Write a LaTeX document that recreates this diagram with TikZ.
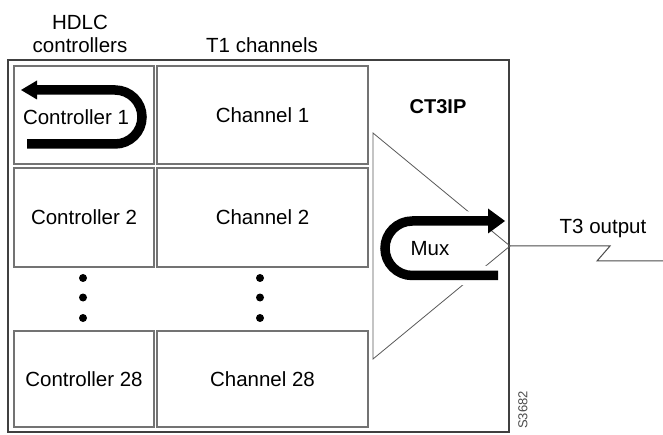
\documentclass[tikz,border=0pt]{standalone}
\usepackage{fontspec}
\setmainfont{Liberation Sans}
\begin{document}
\begin{tikzpicture}[x=1pt,y=-1pt,
  cell/.style={draw=black!55,line width=1.4pt,inner sep=0pt,font=\fontsize{20.5}{24}\selectfont},
  lbl/.style={inner sep=0pt,font=\fontsize{20.5}{24}\selectfont},
  dotnode/.style={circle,fill=black,inner sep=0pt,minimum size=8pt},
  bigarrow/.style={line width=9.5pt,black},
  halo/.style={line width=19pt,white},
  tri/.style={draw=black!65,line width=0.8pt},
  outline/.style={black!70,line width=1pt}]
\useasboundingbox (0,0) rectangle (663,435);
\fill[white] (0,0) rectangle (663,435);
% headers
\node[lbl] (hdlc) at (80,22) {HDLC};
\node[lbl] (ctrls) at (80,45) {controllers};
\node[lbl] (t1) at (262,45) {T1 channels};
% outer box
\node[draw=black!75,line width=1.4pt,minimum width=501pt,minimum height=372pt,inner sep=0pt] (outer) at (258.5,246) {};
% controllers
\node[cell,minimum width=140pt,minimum height=98pt] (c1) at (84,115) {};
\node[lbl] (c1t) at (76,117) {Controller 1};
\node[cell,minimum width=140pt,minimum height=99pt] (c2) at (84,217.5) {Controller 2};
\node[cell,minimum width=140pt,minimum height=96pt] (c28) at (84,379) {Controller 28};
% channels
\node[cell,minimum width=211pt,minimum height=98pt] (ch1) at (262.5,115) {Channel 1};
\node[cell,minimum width=211pt,minimum height=99pt] (ch2) at (262.5,217.5) {Channel 2};
\node[cell,minimum width=211pt,minimum height=96pt] (ch28) at (262.5,379) {Channel 28};
% dots
\node[dotnode] (d1) at (83,278) {};
\node[dotnode] (d2) at (83,297.5) {};
\node[dotnode] (d3) at (83,318) {};
\node[dotnode] (e1) at (260,278) {};
\node[dotnode] (e2) at (260,297.5) {};
\node[dotnode] (e3) at (260,318) {};
% controller 1 loop arrow
\coordinate (la) at (27,144);
\coordinate (lb) at (115,144);
\coordinate (lc) at (142,117);
\coordinate (ld) at (115,90);
\coordinate (le) at (37,90);
\draw[bigarrow] (la) -- (lb) .. controls (129.9,144) and (142,131.9) .. (lc) .. controls (142,102.1) and (129.9,90) .. (ld) -- (le);
\fill[black] (37,80.5) -- (21,90) -- (37,99.5) -- cycle;
% CT3IP
\node[lbl,font=\fontsize{20}{24}\selectfont\bfseries] (ct3ip) at (438,107) {CT3IP};
% mux triangle
\coordinate (mt) at (373,133);
\coordinate (mb) at (373,359);
\coordinate (mo) at (510,246);
\draw[tri] (mt) -- (mo) -- (mb) -- cycle;
% mux arrow
\coordinate (ma) at (498,275.5);
\coordinate (mbb) at (412.25,275.5);
\coordinate (mc) at (385,248.25);
\coordinate (md) at (412.25,221);
\coordinate (me) at (489,221);
\draw[halo] (ma) -- (mbb) .. controls (397.2,275.5) and (385,263.3) .. (mc) .. controls (385,233.2) and (397.2,221) .. (md) -- (me);
\draw[bigarrow] (ma) -- (mbb) .. controls (397.2,275.5) and (385,263.3) .. (mc) .. controls (385,233.2) and (397.2,221) .. (md) -- (me);
\fill[black] (488,208.5) -- (505,221) -- (488,233.5) -- cycle;
\node[lbl] (mux) at (430,249) {Mux};
% output
\coordinate (z1) at (610,246);
\coordinate (z2) at (597,261);
\coordinate (z3) at (663,261);
\draw[outline] (mo) -- (z1) -- (z2) -- (z3);
\node[lbl] (t3) at (603,228) {T3 output};
% figure number
\node[font=\fontsize{13}{15}\selectfont,text=black!70,rotate=90,inner sep=0pt] (fig) at (523,410) {S3682};
\end{tikzpicture}
\end{document}
